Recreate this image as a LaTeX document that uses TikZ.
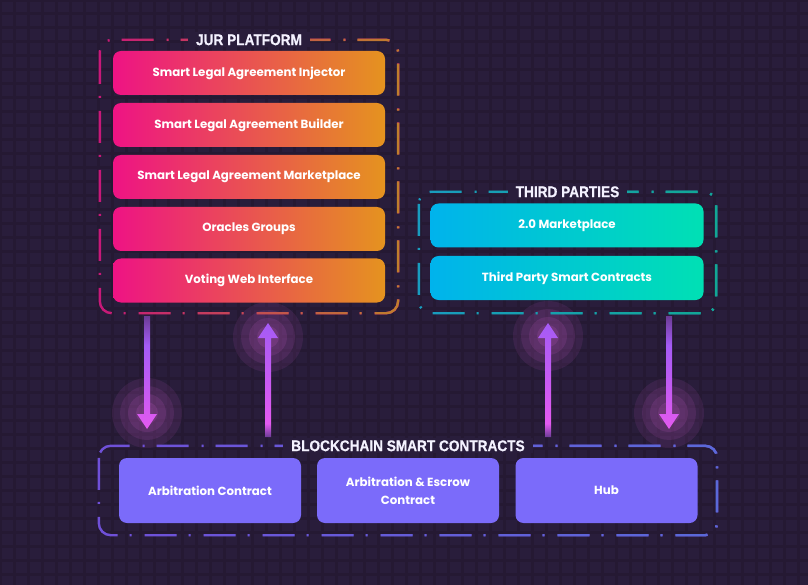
\documentclass[tikz,border=0pt]{standalone}
\usepackage{fontspec}
\setmainfont{Poppins}
\newfontfamily\titlefont[FakeStretch=0.88,FakeBold=0.6]{Liberation Sans}
\usetikzlibrary{fadings,calc}
\definecolor{bg}{HTML}{291D3B}
\definecolor{gridc}{HTML}{251933}
\definecolor{jurL}{HTML}{EE1384}
\definecolor{jurR}{HTML}{E5931F}
\definecolor{jurBL}{HTML}{C8187A}
\definecolor{jurBR}{HTML}{C0802C}
\definecolor{tpL}{HTML}{00B3EC}
\definecolor{tpR}{HTML}{00E0B4}
\definecolor{tpBL}{HTML}{1A9CC0}
\definecolor{tpBR}{HTML}{12A894}
\definecolor{bcC}{HTML}{7B6BFA}
\definecolor{bcBL}{HTML}{7050D8}
\definecolor{bcBR}{HTML}{5A6AD8}
\definecolor{titleC}{HTML}{F4F2FF}
\definecolor{arpink}{HTML}{E35AF0}
\definecolor{arpurple}{HTML}{A45BF5}
\definecolor{ardim}{HTML}{6A3C95}
\definecolor{glowc}{HTML}{D060D0}
\pgfdeclareverticalshading{arrdn}{100bp}{color(0bp)=(arpink); color(25bp)=(arpink); color(62bp)=(arpurple); color(75bp)=(ardim); color(100bp)=(ardim)}
\pgfdeclareverticalshading{arrup}{100bp}{color(0bp)=(ardim); color(25bp)=(ardim); color(31bp)=(arpink); color(75bp)=(arpurple); color(100bp)=(arpurple)}
\newcommand\jdownarrow[2]{%
  \shade[shading=arrdn] ($(#1)+(-3,0)$) -- ($(#1)+(3,0)$) -- ($(#2)+(3,-15)$) -- ($(#2)+(10,-15)$) -- (#2) -- ($(#2)+(-10,-15)$) -- ($(#2)+(-3,-15)$) -- cycle;}
\newcommand\juparrow[2]{%
  \shade[shading=arrup] ($(#1)+(-3,0)$) -- ($(#1)+(3,0)$) -- ($(#2)+(3,15)$) -- ($(#2)+(10,15)$) -- (#2) -- ($(#2)+(-10,15)$) -- ($(#2)+(-3,15)$) -- cycle;}
\newcommand\jglow[1]{%
  \foreach \r/\o in {35/0.10,27/0.12,19/0.14,11/0.16} {\fill[glowc, opacity=\o] (#1) circle[radius=\r pt];}}
\begin{document}
\begin{tikzpicture}[x=1pt,y=-1pt,
  boxtxt/.style={text=white, font=\bfseries\fontsize{11.8}{18}\selectfont, align=center, inner sep=0pt, rounded corners=8pt},
  jurbox/.style={boxtxt, minimum width=272pt, minimum height=44pt, left color=jurL, right color=jurR},
  tpbox/.style={boxtxt, minimum width=273pt, minimum height=44pt, left color=tpL, right color=tpR},
  bcbox/.style={boxtxt, minimum width=182pt, minimum height=65pt, fill=bcC},
  grpline/.style={line width=2.4pt, rounded corners=12pt, dash pattern=on 32pt off 12pt on 2pt off 13pt},
  grptitle/.style={fill=bg, text=titleC, inner xsep=8pt, inner ysep=2pt, font=\titlefont\bfseries\fontsize{15.5}{18}\selectfont}
]
\useasboundingbox (0,0) rectangle (808,585);
\fill[bg] (0,0) rectangle (808,585);
\draw[gridc, line width=3pt, step=14pt] (0,0) grid (808,585);

% glows
\coordinate (g1) at (147,413);
\coordinate (g2) at (268,337);
\coordinate (g3) at (548,336);
\coordinate (g4) at (669,413);
\jglow{g1}\jglow{g2}\jglow{g3}\jglow{g4}

% frames
\node[inner sep=0pt, minimum width=298pt, minimum height=273pt] (jur) at (249,176.5) {};
\node[inner sep=0pt, minimum width=297pt, minimum height=121pt] (tp) at (567.5,252.5) {};
\node[inner sep=0pt, minimum width=618pt, minimum height=89pt] (bc) at (408,490.5) {};
\draw[grpline, jurBL] (jur.north west) rectangle (jur.south east);
\draw[grpline, jurBR, path fading=west] (jur.north west) rectangle (jur.south east);
\draw[grpline, tpBL] (tp.north west) rectangle (tp.south east);
\draw[grpline, tpBR, path fading=west] (tp.north west) rectangle (tp.south east);
\draw[grpline, bcBL] (bc.north west) rectangle (bc.south east);
\draw[grpline, bcBR, path fading=west] (bc.north west) rectangle (bc.south east);

\node[grptitle] (jurT) at (jur.north) {JUR PLATFORM};
\node[grptitle] (tpT) at (tp.north) {THIRD PARTIES};
\node[grptitle] (bcT) at (bc.north) {BLOCKCHAIN SMART CONTRACTS};

% boxes
\node[jurbox] (j1) at (249,73) {Smart Legal Agreement Injector};
\node[jurbox] (j2) at (249,125) {Smart Legal Agreement Builder};
\node[jurbox] (j3) at (249,177) {Smart Legal Agreement Marketplace};
\node[jurbox] (j4) at (249,229) {Oracles Groups};
\node[jurbox] (j5) at (249,280.5) {Voting Web Interface};

\node[tpbox] (t1) at (567,225.5) {2.0 Marketplace};
\node[tpbox] (t2) at (567,278) {Third Party Smart Contracts};

\node[bcbox] (b1) at (210,490.5) {Arbitration Contract};
\node[bcbox] (b2) at (408,490.5) {Arbitration \& Escrow\\Contract};
\node[bcbox] (b3) at (606.5,490.5) {Hub};

% arrows
\coordinate (a1s) at (147,316); \coordinate (a1e) at (147,429);
\coordinate (a2s) at (268,437); \coordinate (a2e) at (268,323);
\coordinate (a3s) at (548,437); \coordinate (a3e) at (548,323);
\coordinate (a4s) at (669,316); \coordinate (a4e) at (669,429);
\jdownarrow{a1s}{a1e}
\juparrow{a2s}{a2e}
\juparrow{a3s}{a3e}
\jdownarrow{a4s}{a4e}
\end{tikzpicture}
\end{document}
